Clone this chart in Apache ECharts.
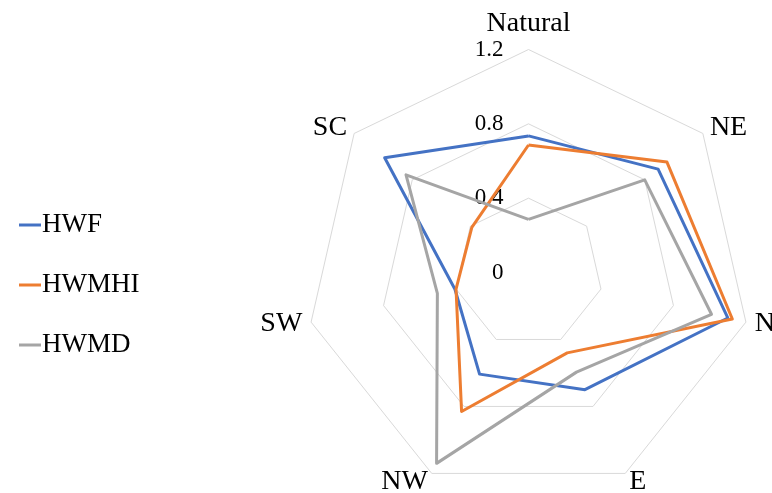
<!DOCTYPE html>
<html>
<head>
<meta charset="utf-8">
<script src="https://cdn.jsdelivr.net/npm/echarts@6/dist/echarts.min.js"></script>
<style>
html,body{margin:0;padding:0;background:#fff;}
#chart{width:772px;height:493px;}
</style>
</head>
<body>
<div id="chart"></div>
<script>
// Categories in clockwise order starting from the top
const categories = ['Natural', 'NE', 'N', 'E', 'NW', 'SW', 'SC'];
const hwf   = [0.735, 0.892, 1.10, 0.70, 0.607, 0.406, 0.99];
const hwmhi = [0.686, 0.953, 1.125, 0.48, 0.83, 0.40, 0.39];
const hwmd  = [0.286, 0.80, 1.01, 0.595, 1.14, 0.503, 0.843];
const seriesNames = ['HWF', 'HWMHI', 'HWMD'];
const axisMin = 0, axisMax = 1.2, axisSplits = 3;

// ECharts radar goes counter-clockwise: reorder to keep the first item on top and the rest clockwise
function toCCW(arr) { return [arr[0]].concat(arr.slice(1).reverse()); }

const FONT = "'Liberation Serif', 'Times New Roman', serif";
const chart = echarts.init(document.getElementById('chart'));
const indicators = toCCW(categories).map((name, i) => {
  const o = { name: name, min: axisMin, max: axisMax };
  if (i === 0) o.axisLabel = { show: true };
  return o;
});

chart.setOption({
  animation: false,
  backgroundColor: '#fff',
  color: ['#4472C4', '#ED7D31', '#A5A5A5'],
  legend: {
    orient: 'vertical',
    left: 14,
    top: 205,
    itemGap: 30,
    itemWidth: 22,
    itemHeight: 3,
    icon: 'rect',
    textStyle: { fontFamily: FONT, fontSize: 27, color: '#000', lineHeight: 30, padding: [0, 0, 0, -4] },
    data: seriesNames
  },
  radar: {
    center: [528.5, 272.5],
    radius: 223,
    shape: 'polygon',
    splitNumber: axisSplits,
    nameGap: 9,
    axisName: { color: '#000', fontFamily: FONT, fontSize: 28 },
    axisLine: { show: false },
    axisTick: { show: false },
    splitArea: { show: false },
    splitLine: { lineStyle: { color: '#D9D9D9', width: 1 } },
    axisLabel: {
      show: false, color: '#000', fontFamily: FONT, fontSize: 23, margin: 25,
      formatter: v => String(Math.round(v * 10) / 10)
    },
    indicator: indicators
  },
  series: [{
    type: 'radar',
    symbol: 'none',
    lineStyle: { width: 3 },
    data: [
      { name: seriesNames[0], value: toCCW(hwf), lineStyle: { width: 3, color: '#4472C4' }, itemStyle: { color: '#4472C4' } },
      { name: seriesNames[1], value: toCCW(hwmhi), lineStyle: { width: 3, color: '#ED7D31' }, itemStyle: { color: '#ED7D31' } },
      { name: seriesNames[2], value: toCCW(hwmd), lineStyle: { width: 3, color: '#A5A5A5' }, itemStyle: { color: '#A5A5A5' } }
    ]
  }]
});
</script>
</body>
</html>
